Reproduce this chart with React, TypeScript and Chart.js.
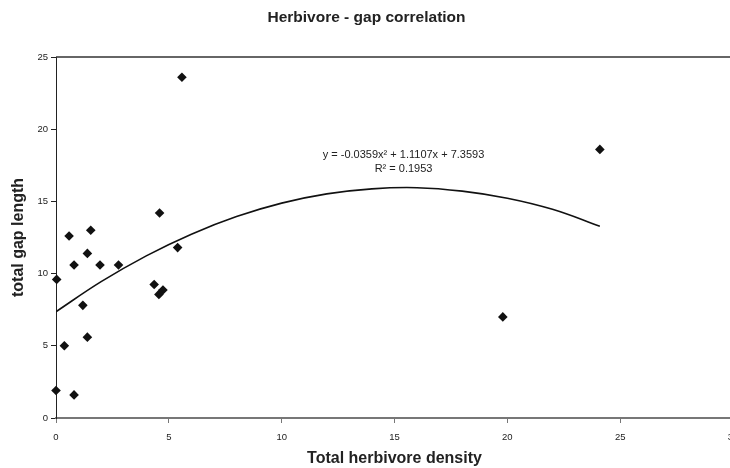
import React, { useEffect, useRef } from "react";
import { Chart, registerables } from "chart.js";

Chart.register(...registerables);

const titleText = "Herbivore - gap correlation";
const xTitle = "Total herbivore density";
const yTitle = "total gap length";
const equationLines = ["y = -0.0359x² + 1.1107x + 7.3593", "R² = 0.1953"];

// observed points
const densityX = [0.03, 0.0, 0.37, 0.8, 0.58, 0.8, 1.19, 1.39, 1.39, 1.54, 1.95, 2.77, 4.35, 4.56, 4.74, 4.59, 5.39, 5.58, 19.8, 24.1];
const gapY = [9.6, 1.9, 5.0, 1.6, 12.6, 10.6, 7.8, 5.6, 11.4, 13.0, 10.6, 10.6, 9.25, 8.56, 8.86, 14.2, 11.8, 23.6, 7.0, 18.6];

// polynomial trend line
const trendX = [0, 2, 4, 6, 8, 10, 12, 14, 16, 18, 20, 22, 24.1];
const trendY = [7.36, 9.44, 11.23, 12.73, 13.95, 14.88, 15.52, 15.87, 15.95, 15.71, 15.22, 14.45, 13.28];

const xTicksMax = 30;
const yTicksMax = 25;

const FONT = "'Liberation Sans', Arial, sans-serif";

export default function App() {
  const ref = useRef<HTMLCanvasElement | null>(null);

  useEffect(() => {
    document.body.style.overflow = "hidden";
    document.documentElement.style.overflow = "hidden";
    const canvas = ref.current;
    if (!canvas) return;

    const framePlugin = {
      id: "frame",
      afterDraw(chart: any) {
        const { ctx, chartArea, scales } = chart;
        ctx.save();
        // top border of plot area
        ctx.strokeStyle = "#333";
        ctx.lineWidth = 1.5;
        ctx.beginPath();
        ctx.moveTo(chartArea.left, chartArea.top);
        ctx.lineTo(chartArea.right, chartArea.top);
        ctx.stroke();
        // equation label
        ctx.fillStyle = "#222";
        ctx.font = `11px ${FONT}`;
        ctx.textAlign = "center";
        ctx.textBaseline = "middle";
        const cx = scales.x.getPixelForValue(15.4);
        ctx.fillText(equationLines[0], cx, scales.y.getPixelForValue(18.2));
        ctx.fillText(equationLines[1], cx, scales.y.getPixelForValue(17.25));
        ctx.restore();
      },
    };

    const chart = new Chart(canvas, {
      type: "scatter",
      data: {
        datasets: [
          {
            type: "line",
            label: "trend",
            data: trendX.map((x, i) => ({ x, y: trendY[i] })),
            borderColor: "#111",
            borderWidth: 1.6,
            pointRadius: 0,
            tension: 0.4,
            fill: false,
          } as any,
          {
            label: "gap",
            data: densityX.map((x, i) => ({ x, y: gapY[i] })),
            pointStyle: "rectRot",
            pointRadius: 4.8,
            backgroundColor: "#111",
            borderColor: "#111",
            borderWidth: 0,
            clip: false,
          } as any,
        ],
      },
      options: {
        animation: false,
        responsive: false,
        maintainAspectRatio: false,
        layout: { padding: { right: 17, left: 0, top: 0, bottom: 0 } },
        plugins: {
          legend: { display: false },
          tooltip: { enabled: false },
          title: {
            display: true,
            text: titleText,
            color: "#222",
            font: { family: FONT, size: 15.5, weight: "bold", lineHeight: 1.2 },
            padding: { top: 8, bottom: 30.4 },
          },
        },
        scales: {
          x: {
            type: "linear",
            min: 0,
            max: xTicksMax,
            afterFit: (s: any) => {
              s.height = 50;
            },
            ticks: {
              stepSize: 5,
              color: "#222",
              font: { family: FONT, size: 9.5 },
              padding: 9,
              maxRotation: 0,
            },
            grid: {
              display: true,
              drawOnChartArea: false,
              drawTicks: true,
              tickLength: 5,
              color: "#777",
            },
            border: { display: true, color: "#777", width: 2 },
            title: {
              display: true,
              text: xTitle,
              color: "#222",
              font: { family: FONT, size: 16, weight: "bold", lineHeight: 1.2 },
              padding: { top: 0, bottom: 0 },
            },
          },
          y: {
            type: "linear",
            min: 0,
            max: yTicksMax,
            afterFit: (s: any) => {
              s.width = 56;
            },
            ticks: {
              stepSize: 5,
              color: "#222",
              font: { family: FONT, size: 9.5 },
              padding: 3,
            },
            grid: {
              display: true,
              drawOnChartArea: false,
              drawTicks: true,
              tickLength: 5,
              color: "#222",
            },
            border: { display: true, color: "#222", width: 1 },
            title: {
              display: true,
              text: yTitle,
              color: "#222",
              font: { family: FONT, size: 16, weight: "bold", lineHeight: 1.2 },
              padding: { top: 9, bottom: 0 },
            },
          },
        },
      },
      plugins: [framePlugin],
    });

    return () => chart.destroy();
  }, []);

  return (
    <div style={{ position: "absolute", left: 0, top: 0, width: 750, height: 468, background: "#fff" }}>
      <canvas ref={ref} width={750} height={468} style={{ display: "block", width: 750, height: 468 }} />
    </div>
  );
}
